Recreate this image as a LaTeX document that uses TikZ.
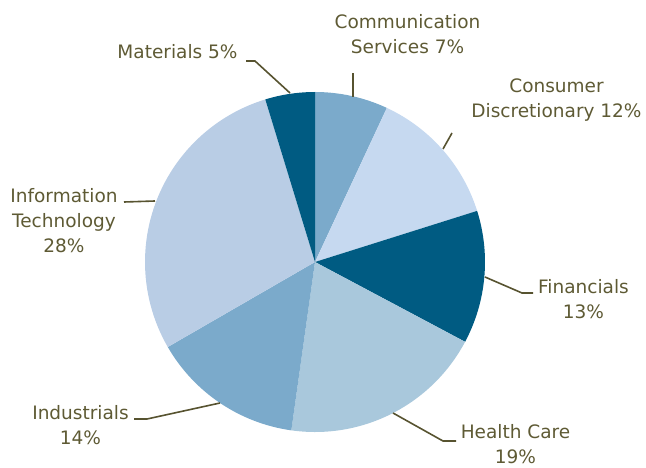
\documentclass[tikz,border=0pt]{standalone}
\usepackage{fontspec}
\setmainfont{DejaVu Sans}
\definecolor{darkb}{HTML}{005B82}
\definecolor{medb}{HTML}{7BAACB}
\definecolor{lightcd}{HTML}{C6D9F0}
\definecolor{hcb}{HTML}{A9C8DC}
\definecolor{itb}{HTML}{B9CDE5}
\definecolor{txt}{HTML}{5E5A34}
\definecolor{lead}{HTML}{575330}
\begin{document}
\begin{tikzpicture}[x=1pt,y=1pt,
  lbl/.style={text=txt,align=center,inner sep=0pt,font=\fontsize{18.5}{25}\selectfont},
  leader/.style={draw=lead,line width=1.6pt}]
\useasboundingbox (0,0) rectangle (646,467);
\coordinate (C) at (315,205);
\def\R{170}
\newcommand\slice[3]{\fill[#3] (C) -- ++(#1:\R) arc[start angle=#1,end angle=#2,radius=\R] -- cycle;}
\slice{90}{65}{medb}
\slice{65}{17.5}{lightcd}
\slice{17.5}{-28}{darkb}
\slice{-28}{-98}{hcb}
\slice{-98}{-150}{medb}
\slice{-150}{-253}{itb}
\slice{-253}{-270}{darkb}
% labels
\node[lbl] (mat) at (177.5,415) {Materials 5\%};
\node[lbl] (cs) at (407.5,432.5) {Communication\\Services 7\%};
\node[lbl] (cd) at (556.5,366.5) {Consumer\\Discretionary 12\%};
\node[lbl] (fin) at (583.5,168) {Financials\\13\%};
\node[lbl] (hc) at (515.5,22.5) {Health Care\\19\%};
\node[lbl] (ind) at (80.5,42) {Industrials\\14\%};
\node[lbl] (it) at (64,246) {Information\\Technology\\28\%};
% leader points
\coordinate (matA) at (290,374); \coordinate (matB) at (255,406); \coordinate (matC) at (246,406);
\coordinate (csA) at (353,370); \coordinate (csB) at (353,394);
\coordinate (cdA) at (443,318); \coordinate (cdB) at (452,334);
\coordinate (finA) at (485,190); \coordinate (finB) at (522,174); \coordinate (finC) at (533,174);
\coordinate (hcA) at (393,54); \coordinate (hcB) at (443,26); \coordinate (hcC) at (456,26);
\coordinate (indA) at (220,64); \coordinate (indB) at (147,48); \coordinate (indC) at (134,48);
\coordinate (itA) at (155,266); \coordinate (itB) at (124,265);
\draw[leader] (matA) -- (matB) -- (matC);
\draw[leader] (csA) -- (csB);
\draw[leader] (cdA) -- (cdB);
\draw[leader] (finA) -- (finB) -- (finC);
\draw[leader] (hcA) -- (hcB) -- (hcC);
\draw[leader] (indA) -- (indB) -- (indC);
\draw[leader] (itA) -- (itB);
\end{tikzpicture}
\end{document}
